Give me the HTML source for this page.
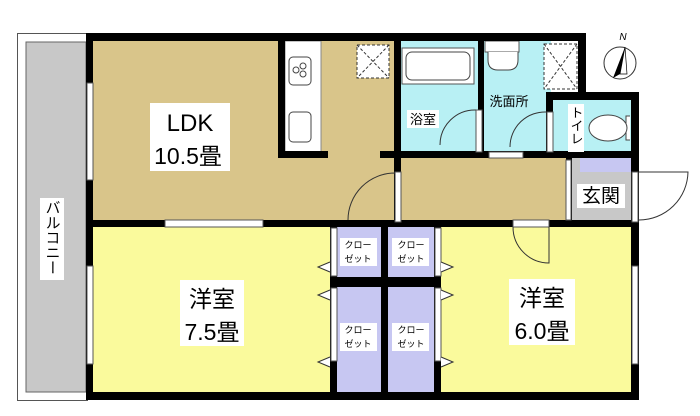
<!DOCTYPE html>
<html><head><meta charset="utf-8"><style>
html,body{margin:0;padding:0;background:#fff;}
svg{display:block;}
text{font-family:"Liberation Sans","Noto Sans CJK JP",sans-serif;fill:#000;}
</style></head><body>
<svg width="700" height="416" viewBox="0 0 700 416" xmlns="http://www.w3.org/2000/svg">
<!-- balcony -->
<rect x="17.5" y="33.5" width="70" height="367" fill="#fff" stroke="#555"/>
<rect x="26" y="42" width="60" height="350" fill="#c8c8c8" stroke="#666"/>
<rect x="40" y="198" width="24" height="82" fill="#fff"/>
<text x="52" y="200" font-size="15" style="writing-mode:vertical-rl;glyph-orientation-vertical:0">バルコニー</text>

<!-- floors -->
<rect x="93" y="41" width="308" height="181" fill="#d9c58a"/>
<rect x="400" y="158" width="168" height="64" fill="#d9c58a"/>
<rect x="400" y="41" width="80" height="113" fill="#b8f0f4"/>
<rect x="483" y="41" width="68" height="113" fill="#b8f0f4"/>
<rect x="553" y="98" width="80" height="56" fill="#b8f0f4"/>
<rect x="571" y="158" width="62" height="64" fill="#c8c8c8"/>
<rect x="580" y="158" width="52" height="14" fill="#c7c7f2"/>
<rect x="93" y="227" width="240" height="166" fill="#fafa9c"/>
<rect x="337" y="227" width="97" height="166" fill="#c7c7f2"/>
<rect x="440" y="227" width="193" height="166" fill="#fafa9c"/>

<!-- kitchen counter -->
<rect x="285" y="41" width="36" height="111" fill="#fff" stroke="#888"/>
<rect x="289" y="57" width="22" height="28" rx="4" fill="#fff" stroke="#444"/>
<circle cx="296" cy="70" r="3" fill="none" stroke="#444"/><circle cx="303" cy="66" r="3" fill="none" stroke="#444"/><circle cx="303" cy="74" r="3" fill="none" stroke="#444"/>
<rect x="289" y="112" width="22" height="30" rx="4" fill="#fff" stroke="#444"/>
<!-- bath tub -->
<rect x="402" y="48" width="72" height="36" fill="#fff" stroke="#555"/>
<rect x="406" y="52" width="64" height="28" rx="6" fill="#fff" stroke="#444"/>
<!-- wash basin -->
<path d="M485 41 h34 v11 h-34z" fill="#fff" stroke="#555"/>
<path d="M488 52 v8 q0 10 10 10 h10 q10 0 10-10 v-8" fill="#fff" stroke="#444"/>
<!-- toilet -->
<path d="M630 116 h-4 v24 h4" fill="#fff" stroke="#444"/>
<ellipse cx="608" cy="128" rx="19" ry="13" fill="#fff" stroke="#444"/>
<!-- ventilation boxes -->
<rect x="357" y="45" width="32" height="33" fill="#fff" stroke="#333" stroke-dasharray="3,2"/>
<path d="M357 45 L389 78 M389 45 L357 78" stroke="#333" stroke-dasharray="3,2"/>
<rect x="544" y="44" width="33" height="45" fill="#fff" stroke="#333" stroke-dasharray="3,2"/>
<path d="M544 44 L577 89 M577 44 L544 89" stroke="#333" stroke-dasharray="3,2"/>

<g fill="#000">
<rect x="86" y="33" width="500" height="8"/>
<rect x="578" y="33" width="8" height="67"/>
<rect x="546" y="92" width="93" height="8"/>
<rect x="631" y="92" width="8" height="308"/>
<rect x="86" y="392" width="553" height="8"/>
<rect x="86" y="33" width="7" height="367"/>
<rect x="278" y="41" width="7" height="117"/>
<rect x="278" y="151" width="50" height="7"/>
<rect x="380" y="151" width="258" height="7"/>
<rect x="394" y="41" width="7" height="181"/>
<rect x="478" y="41" width="6" height="115"/>
<rect x="546" y="92" width="7" height="64"/>
<rect x="566" y="154" width="6" height="70"/>
<rect x="86" y="220" width="553" height="7"/>
<rect x="330" y="227" width="7" height="170"/>
<rect x="381" y="227" width="7" height="170"/>
<rect x="330" y="277" width="111" height="10"/>
<rect x="434" y="227" width="7" height="170"/>
</g>

<!-- windows/openings -->
<rect x="87" y="83" width="6" height="97" fill="#fff" stroke="#555"/>
<rect x="87" y="266" width="6" height="98" fill="#fff" stroke="#555"/>
<rect x="165" y="220" width="98" height="7" fill="#fff" stroke="#555"/>
<rect x="632" y="266" width="6" height="98" fill="#fff" stroke="#555"/>
<rect x="632" y="172" width="6" height="50" fill="#fff" stroke="#555"/>
<rect x="489" y="152" width="34" height="6" fill="#fff" stroke="#555"/>
<rect x="513" y="220" width="36" height="7" fill="#fff" stroke="#555"/>
<rect x="395" y="172" width="6" height="50" fill="#fff" stroke="#555"/>
<rect x="476" y="110" width="6" height="42" fill="#fff" stroke="#555"/>
<rect x="547" y="112" width="6" height="40" fill="#fff" stroke="#555"/>
<rect x="331" y="228" width="6" height="48" fill="#fff" stroke="#555"/>
<rect x="331" y="288" width="6" height="73" fill="#fff" stroke="#555"/>
<rect x="435" y="228" width="6" height="48" fill="#fff" stroke="#555"/>
<rect x="435" y="288" width="6" height="73" fill="#fff" stroke="#555"/>
<rect x="566" y="160" width="5" height="60" fill="#fff" stroke="#555"/>

<g fill="none" stroke="#333">
<path d="M348 220 A47 47 0 0 1 395 173 L395 220"/>
<path d="M440 145 A35 35 0 0 1 476 110"/>
<path d="M510 147 A35 35 0 0 1 547 112"/>
<path d="M639 220 A49 49 0 0 0 688 172 L639 172"/>
<path d="M513 227 A36 36 0 0 0 549 263 L549 227"/>
</g>
<g fill="#fff" stroke="#333">
<path d="M330 262 L318 267 L330 272"/><path d="M330 290 L318 295 L330 300"/><path d="M330 357 L318 362 L330 367"/>
<path d="M441 262 L453 267 L441 272"/><path d="M441 290 L453 295 L441 300"/><path d="M441 357 L453 362 L441 367"/>
</g>

<!-- labels -->
<rect x="150" y="103" width="80" height="68" fill="#fff"/>
<text x="190" y="131" font-size="24" text-anchor="middle">LDK</text>
<text x="188" y="164" font-size="23" text-anchor="middle">10.5畳</text>
<rect x="180" y="280" width="64" height="66" fill="#fff"/>
<text x="212" y="307" font-size="23" text-anchor="middle">洋室</text>
<text x="212" y="340" font-size="23" text-anchor="middle">7.5畳</text>
<rect x="509" y="279" width="66" height="66" fill="#fff"/>
<text x="542" y="306" font-size="23" text-anchor="middle">洋室</text>
<text x="542" y="339" font-size="23" text-anchor="middle">6.0畳</text>
<rect x="407" y="110" width="32" height="18" fill="#fff"/>
<text x="423" y="124" font-size="13" text-anchor="middle">浴室</text>
<text x="509" y="106" font-size="13" text-anchor="middle">洗面所</text>
<rect x="568" y="104" width="16" height="48" fill="#fff"/>
<text x="576" y="106" font-size="13" style="writing-mode:vertical-rl">トイレ</text>
<rect x="577" y="184" width="48" height="24" fill="#fff"/>
<text x="601" y="202" font-size="19" text-anchor="middle">玄関</text>
<g fill="#fff">
<rect x="340" y="238" width="37" height="28"/><rect x="392" y="238" width="37" height="28"/>
<rect x="340" y="323" width="37" height="28"/><rect x="392" y="323" width="37" height="28"/>
</g>
<g font-size="9" text-anchor="middle">
<text x="358" y="248">クロー</text><text x="358" y="262">ゼット</text>
<text x="411" y="248">クロー</text><text x="411" y="262">ゼット</text>
<text x="358" y="333">クロー</text><text x="358" y="347">ゼット</text>
<text x="411" y="333">クロー</text><text x="411" y="347">ゼット</text>
</g>
<circle cx="620" cy="63" r="16" fill="#fff" stroke="#333"/>
<path d="M625 47 L613 78 L620 74 Z" fill="#000"/>
<path d="M625 47 L627 74 L620 74 Z" fill="#fff" stroke="#000" stroke-width=".7"/>
<text x="623" y="40" font-size="10" text-anchor="middle" font-style="italic">N</text>
</svg>
</body></html>
